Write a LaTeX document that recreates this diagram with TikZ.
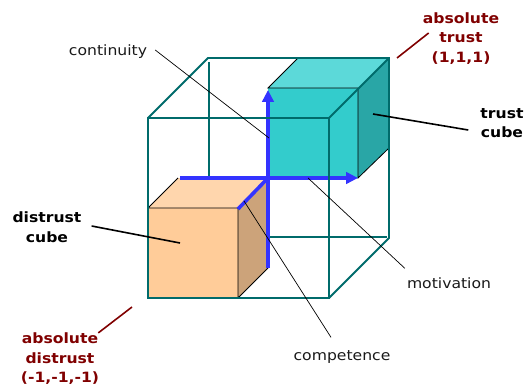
\documentclass[tikz,border=0pt]{standalone}
\usepackage{fontspec}
\setmainfont{DejaVu Sans}
\newfontfamily\labelfont[FakeStretch=1.1]{DejaVu Sans}
\usepackage{xcolor}
\usetikzlibrary{arrows.meta}
\definecolor{frameteal}{RGB}{0,107,107}
\definecolor{trustfront}{RGB}{51,204,204}
\definecolor{trusttop}{RGB}{92,217,217}
\definecolor{trustside}{RGB}{41,166,166}
\definecolor{distrustfront}{RGB}{255,204,153}
\definecolor{distrusttop}{RGB}{255,214,173}
\definecolor{distrustside}{RGB}{204,163,122}
\definecolor{axisblue}{RGB}{51,51,255}
\definecolor{absred}{RGB}{128,0,0}
\tikzset{
  frameline/.style={draw=frameteal, line width=1.8pt},
  cubeline/.style={draw=black, line width=0.8pt},
  axisline/.style={draw=axisblue, line width=3.6pt},
  axisarrow/.style={axisline, -{Triangle[length=12pt,width=11.5pt]}},
  thinlead/.style={draw=black, line width=0.7pt},
  cubelead/.style={draw=black, line width=1.6pt},
  abslead/.style={draw=absred, line width=1.6pt},
  plainlabel/.style={font=\labelfont\fontsize{14.2}{19.5}\selectfont, text=black!90, inner sep=0pt},
  cubelabel/.style={font=\labelfont\fontsize{14.2}{19.5}\selectfont\bfseries, align=center, inner sep=0pt},
  abslabel/.style={cubelabel, text=absred}
}
\begin{document}
\begin{tikzpicture}[x=1pt,y=-1pt]
  \useasboundingbox (0,0) rectangle (530,385);
  % back edges of the big cube
  \draw[frameline] (209,62) -- (209,178);
  \draw[frameline] (268,237) -- (387,237);
  % trust cube
  \fill[trustfront] (268,88) rectangle (358,178);
  \fill[trusttop] (268,88) -- (298,58) -- (389,58) -- (358,88) -- cycle;
  \fill[trustside] (358,88) -- (389,58) -- (389,148) -- (358,178) -- cycle;
  \draw[cubeline] (298,58) -- (268,88) -- (358,88) -- (358,178) -- (389,148);
  % distrust cube
  \fill[distrustfront] (148,208) rectangle (238,298);
  \fill[distrusttop] (148,208) -- (178,178) -- (268,178) -- (238,208) -- cycle;
  \fill[distrustside] (238,208) -- (268,178) -- (268,268) -- (238,298) -- cycle;
  \draw[cubeline] (178,178) -- (148,208) -- (238,208) -- (238,298) -- (268,268);
  % axes
  \draw[axisline] (268,268) -- (268,178);
  \draw[axisarrow] (268,178) -- (268,90);
  \draw[axisarrow] (180,178) -- (358,178);
  \draw[axisline] (268,178) -- (238,209);
  % big cube
  \draw[frameline] (148,118) rectangle (329,298);
  \draw[frameline] (148,118) -- (208,58) -- (389,58) -- (389,238) -- (329,298);
  \draw[frameline] (329,118) -- (389,58);
  % labels
  \node[plainlabel] (continuity) at (108,51.5) {continuity};
  \node[plainlabel] (motivation) at (449,283) {motivation};
  \node[plainlabel] (competence) at (342,357) {competence};
  \node[cubelabel] (distrustcube) at (47,227) {distrust\\cube};
  \node[cubelabel] (trustcube) at (502,123) {trust\\cube};
  \node[abslabel] (absdistrust) at (60,359) {absolute\\distrust\\(-1,-1,-1)};
  \node[abslabel] (abstrust) at (461,38.5) {absolute\\trust\\(1,1,1)};
  % ends of the leaders
  \coordinate (continuityend) at (269,138);
  \coordinate (motivationend) at (308,178);
  \coordinate (competenceend) at (244,201);
  \coordinate (distrustend) at (180,243);
  \coordinate (trustend) at (373,114);
  \coordinate (absdistrustend) at (132,307);
  \coordinate (abstrustend) at (397,58);
  % leaders
  \draw[thinlead] ([shift={(8,-1.5)}]continuity.east) -- (continuityend);
  \draw[thinlead] ([shift={(-2,-9)}]motivation.north west) -- (motivationend);
  \draw[thinlead] ([shift={(-11,-13)}]competence.north) -- (competenceend);
  \draw[cubelead] ([shift={(10,-1)}]distrustcube.east) -- (distrustend);
  \draw[cubelead] ([shift={(-12,7)}]trustcube.west) -- (trustend);
  \draw[abslead] ([shift={(-1,0)}]absdistrust.north east) -- (absdistrustend);
  \draw[abslead] ([shift={(6,-5.5)}]abstrust.west) -- (abstrustend);
\end{tikzpicture}
\end{document}
